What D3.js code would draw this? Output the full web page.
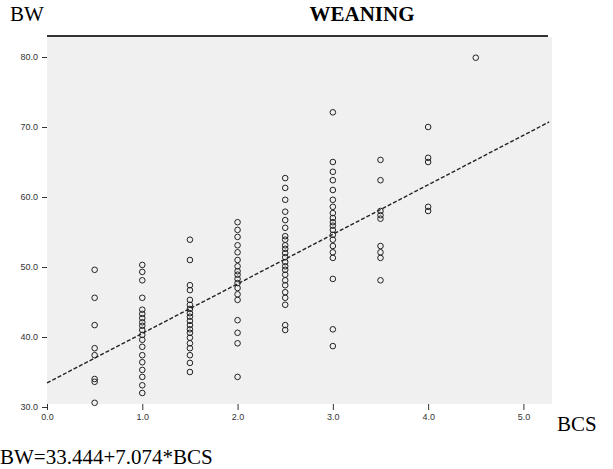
<!DOCTYPE html>
<html>
<head>
<meta charset="utf-8">
<script src="https://cdn.jsdelivr.net/npm/d3@7"></script>
<style>
  body { margin: 0; background: #fff; }
  svg { display: block; }
</style>
</head>
<body>
<svg id="chart" width="613" height="469"></svg>
<script>
// BCS groups and the BW values
const bcsLevels = [0.5, 1.0, 1.5, 2.0, 2.5, 3.0, 3.5, 4.0, 4.5];
const bw05 = [49.6, 45.6, 41.7, 38.4, 37.4, 34.0, 33.6, 30.6];
const bw10 = [50.3, 49.3, 48.1, 45.6, 43.9, 43.3, 42.7, 42.1, 41.6, 41.0, 40.3, 39.6, 38.6, 37.4, 36.4, 35.3, 34.3, 33.1, 32.0];
const bw15 = [53.9, 51.0, 47.4, 46.7, 45.3, 44.6, 44.0, 43.4, 42.9, 42.3, 41.7, 41.1, 40.6, 39.9, 39.1, 38.4, 37.4, 36.3, 35.0];
const bw20 = [56.4, 55.3, 54.3, 53.1, 52.1, 51.0, 50.1, 49.4, 48.9, 48.3, 47.7, 47.0, 46.1, 45.3, 42.4, 40.6, 39.1, 34.3];
const bw25 = [62.7, 61.3, 59.6, 57.9, 56.7, 55.6, 54.4, 53.9, 53.1, 52.6, 52.0, 51.4, 50.7, 50.1, 49.6, 48.9, 48.1, 47.4, 46.4, 45.6, 44.6, 41.7, 41.0];
const bw30 = [72.1, 65.0, 63.6, 62.4, 61.0, 59.6, 58.6, 57.7, 57.0, 56.4, 55.9, 55.3, 54.6, 53.9, 53.0, 52.1, 51.3, 48.3, 41.1, 38.7];
const bw35 = [65.3, 62.4, 58.0, 57.4, 56.9, 53.0, 52.1, 51.3, 48.1];
const bw40 = [70.0, 65.6, 65.0, 58.6, 58.0];
const bw45 = [79.9];
const bwByLevel = [bw05, bw10, bw15, bw20, bw25, bw30, bw35, bw40, bw45];

const xTicks = [0, 1, 2, 3, 4, 5];
const yTicks = [30, 40, 50, 60, 70, 80];
const fitIntercept = 33.444;
const fitSlope = 7.074;

const points = [];
bcsLevels.forEach((b, i) => {
    bwByLevel[i].forEach(v => points.push({ bcs: b, bw: v }));
});

const svg = d3.select('#chart');
const plot = { left: 47, right: 552, top: 37, bottom: 404 };

const x = d3.scaleLinear().domain([0, 5.3]).range([plot.left, plot.right]);
const y = d3.scaleLinear().domain([30, 80]).range([407, 57]);

// grey plot area
svg.append('rect')
    .attr('x', plot.left)
    .attr('y', plot.top)
    .attr('width', plot.right - plot.left)
    .attr('height', plot.bottom - plot.top)
    .attr('fill', '#f0f0f0');

// heavy rule over the top
svg.append('line')
    .attr('x1', plot.left)
    .attr('x2', plot.right - 4)
    .attr('y1', 36)
    .attr('y2', 36)
    .attr('stroke', '#333')
    .attr('stroke-width', 2);

const yAxis = svg.append('g')
    .attr('transform', `translate(${plot.left},0)`)
    .call(d3.axisLeft(y).tickValues(yTicks).tickFormat(d3.format('.1f')).tickSize(5).tickPadding(4));

const xAxis = svg.append('g')
    .attr('transform', `translate(0,${plot.bottom})`)
    .call(d3.axisBottom(x).tickValues(xTicks).tickFormat(d3.format('.1f')).tickSize(6).tickPadding(4));

[yAxis, xAxis].forEach(g => {
    g.select('.domain').remove();
    g.selectAll('line').attr('stroke', '#333');
    g.selectAll('text')
        .attr('fill', '#333')
        .attr('font-family', 'Liberation Sans, sans-serif')
        .attr('font-size', 9);
});

// fitted line
const fit = d3.line()
    .x(d => x(d))
    .y(d => y(fitIntercept + fitSlope * d));

svg.append('path')
    .datum([0, 5.27])
    .attr('d', fit)
    .attr('fill', 'none')
    .attr('stroke', '#222')
    .attr('stroke-width', 1.4)
    .attr('stroke-dasharray', '4,2');

svg.append('g')
    .selectAll('circle')
    .data(points)
    .enter()
    .append('circle')
    .attr('cx', d => x(d.bcs))
    .attr('cy', d => y(d.bw))
    .attr('r', 2.8)
    .attr('fill', 'none')
    .attr('stroke', '#222')
    .attr('stroke-width', 1);

const serif = 'Liberation Serif, Times New Roman, serif';

svg.append('text')
    .attr('x', 10)
    .attr('y', 21)
    .attr('font-family', serif)
    .attr('font-size', 21)
    .text('BW');

svg.append('text')
    .attr('x', 362)
    .attr('y', 21)
    .attr('text-anchor', 'middle')
    .attr('font-family', serif)
    .attr('font-weight', 'bold')
    .attr('font-size', 21)
    .text('WEANING');

svg.append('text')
    .attr('x', 557)
    .attr('y', 431)
    .attr('font-family', serif)
    .attr('font-size', 21)
    .text('BCS');

svg.append('text')
    .attr('x', 0)
    .attr('y', 464)
    .attr('font-family', serif)
    .attr('font-size', 21)
    .text('BW=33.444+7.074*BCS');
</script>
</body>
</html>
